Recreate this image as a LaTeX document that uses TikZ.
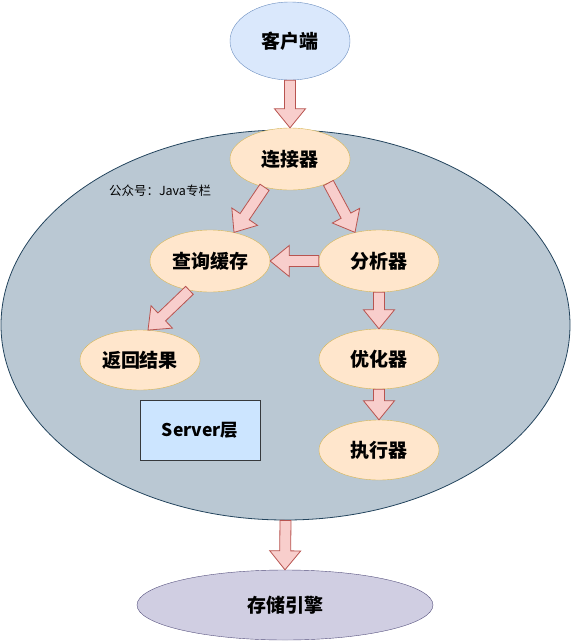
\documentclass[tikz,border=0pt]{standalone}
\usepackage{fontspec}
\setmainfont{Noto Sans CJK SC}
\usetikzlibrary{shapes,calc}

\definecolor{clientfill}{HTML}{DAE8FC}
\definecolor{clientline}{HTML}{6C8EBF}
\definecolor{stagefill}{HTML}{FFE6CC}
\definecolor{stageline}{HTML}{D6B656}
\definecolor{serverfill}{HTML}{BAC8D3}
\definecolor{serverline}{HTML}{23445D}
\definecolor{layerfill}{HTML}{CCE5FF}
\definecolor{layerline}{HTML}{36393D}
\definecolor{enginefill}{HTML}{D0CEE2}
\definecolor{engineline}{HTML}{56517E}
\definecolor{arrowfill}{HTML}{F8CECC}
\definecolor{arrowline}{HTML}{B85450}

\begin{document}
\begin{tikzpicture}[x=1pt,y=-1pt]
   \useasboundingbox (0,0) rectangle (571,641);
   \tikzstyle{stage}=[ellipse, draw=stageline, fill=stagefill, minimum width=120pt, minimum height=62pt, inner sep=0pt, font=\fontsize{19}{21}\selectfont\bfseries]
   \tikzstyle{fat}=[draw=arrowline, fill=arrowfill, line width=0.8pt, line join=miter,
      to path={($(\tikztostart)!5.5pt!-90:(\tikztotarget)$)
         -- ($($(\tikztotarget)!19pt!(\tikztostart)$)!5.5pt!-90:(\tikztotarget)$)
         -- ($($(\tikztotarget)!19pt!(\tikztostart)$)!15.5pt!-90:(\tikztotarget)$)
         -- (\tikztotarget)
         -- ($($(\tikztotarget)!19pt!(\tikztostart)$)!15.5pt!90:(\tikztotarget)$)
         -- ($($(\tikztotarget)!19pt!(\tikztostart)$)!5.5pt!90:(\tikztotarget)$)
         -- ($(\tikztostart)!5.5pt!90:(\tikztotarget)$) -- cycle}]
   \node[ellipse, draw=serverline, fill=serverfill, line width=0.8pt, minimum width=569pt, minimum height=390pt] (server) at (285.5,325) {};
   \node[stage, draw=clientline, fill=clientfill, minimum height=78pt] (client) at (290,41) {客户端};
   \node[stage] (conn) at (290,159) {连接器};
   \node[font=\fontsize{12.5}{14}\selectfont] (brand) at (160,191) {公众号：Java专栏};
   \node[stage] (query) at (210,261) {查询缓存};
   \node[stage] (parser) at (379,261) {分析器};
   \node[stage, minimum height=60pt] (result) at (140,360) {返回结果};
   \node[stage, minimum height=60pt] (optim) at (379,359) {优化器};
   \node[stage, minimum height=60pt] (exec) at (379,450) {执行器};
   \node[draw=layerline, fill=layerfill, minimum width=120pt, minimum height=60pt, font=\fontsize{17.5}{19}\selectfont\bfseries] (layer) at (200,430) {Server层};
   \node[stage, draw=engineline, fill=enginefill, minimum width=296pt, minimum height=70pt] (engine) at (285,605) {存储引擎};
   \foreach \a/\b in {client.south/conn.north, conn.228/query.50, conn.-32/parser.130,
      parser.west/query.east, query.-125/result.75, parser.south/optim.north,
      optim.south/exec.north, server.south/engine.north}
      \draw[fat] (\a) to (\b);
\end{tikzpicture}
\end{document}
